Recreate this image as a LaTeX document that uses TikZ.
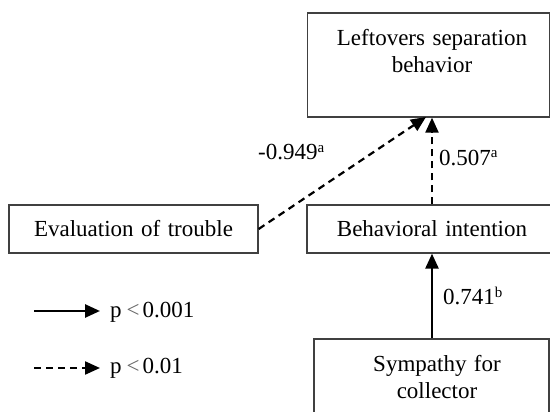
\documentclass[tikz,border=0pt]{standalone}
\usepackage{fontspec}
\setmainfont{Liberation Serif}[WordSpace=1.3]
\usetikzlibrary{arrows.meta}
\newcommand{\sigmark}[1]{\raisebox{0.33em}{\fontsize{15}{15}\selectfont #1}}

\begin{document}
\begin{tikzpicture}[x=1pt, y=-1pt,
    font=\fontsize{23}{27}\selectfont,
    box/.style={draw=black!75, line width=1.3pt, inner sep=0pt},
    lbl/.style={anchor=base west, inner sep=0pt},
    strong/.style={line width=2.6pt, -{Triangle[length=15pt,width=13pt]}},
    weak/.style={strong, line width=2.2pt, dash pattern=on 7pt off 5pt}]

    \useasboundingbox (0,0) rectangle (550,412);
    \clip (0,0) rectangle (550,412);

    % boxes
    \node [box, minimum width=242pt, minimum height=104pt] (lsb) at (428.5,65) {};
    \node [align=center] (lsbtext) at (432,51) {Leftovers separation\\behavior};

    \node [box, minimum width=249pt, minimum height=48pt] (eot) at (133.5,229) {Evaluation of trouble};
    \node [box, minimum width=250pt, minimum height=48pt] (bi) at (432,229) {Behavioral intention};

    \node [box, minimum width=235pt, minimum height=91pt] (sfc) at (431.5,384.5) {};
    \node [align=center] (sfctext) at (437,377) {Sympathy for\\collector};

    % paths
    \draw [strong] (sfc.north -| bi) -- (bi.south);
    \draw [weak] (bi.north) -- (bi.north |- lsb.south);
    \coordinate (tip) at (426,117);
    \draw [weak] (eot.east) -- (tip);

    \node [lbl] (c1) at (258,160) {-0.949\sigmark{a}};
    \node [lbl] (c2) at (439,165) {0.507\sigmark{a}};
    \node [lbl] (c3) at (443,305) {0.741\sigmark{b}};

    % legend
    \coordinate (s0) at (34,311);
    \coordinate (s1) at (100,311);
    \draw [strong] (s0) -- (s1);
    \node [lbl] (k1) at (110,317) {p\hspace{5pt}{\color{black!60}<}\hspace{3pt}0.001};

    \coordinate (w0) at (34,368);
    \coordinate (w1) at (100,368);
    \draw [weak] (w0) -- (w1);
    \node [lbl] (k2) at (110,373) {p\hspace{5pt}{\color{black!60}<}\hspace{3pt}0.01};

\end{tikzpicture}
\end{document}
